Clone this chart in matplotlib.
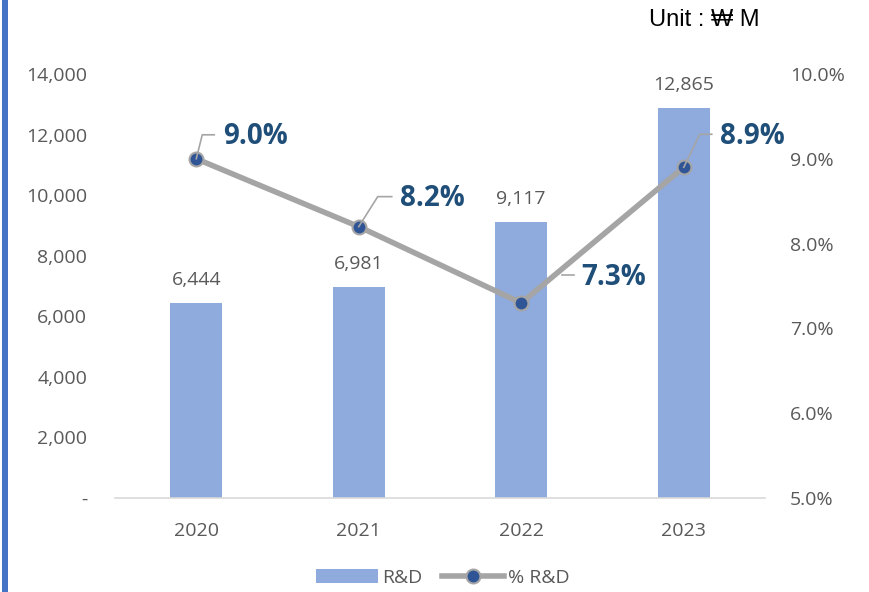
import matplotlib
matplotlib.use("Agg")
import matplotlib.pyplot as plt
from matplotlib.patches import Rectangle
from matplotlib.lines import Line2D

years = ["2020", "2021", "2022", "2023"]
rd = [6444, 6981, 9117, 12865]
pct = [9.0, 8.2, 7.3, 8.9]
left_ticks = [0, 2000, 4000, 6000, 8000, 10000, 12000, 14000]
right_ticks = [5.0, 6.0, 7.0, 8.0, 9.0, 10.0]

plt.rcParams['font.family'] = ['Open Sans', 'DejaVu Sans']
grey_txt = "#595959"

fig = plt.figure(figsize=(8.7, 5.92), dpi=100)
ax = fig.add_axes([115/870, 94/592, 650/870, 424/592])
ax2 = ax.twinx()

x = list(range(len(years)))
bars = ax.bar(x, rd, width=0.32, color="#8FAADC", label="R&D", zorder=2)
ax.set_xlim(-0.5, 3.5)
ax.set_ylim(0, 14000)
ax.set_yticks(left_ticks)
ax.set_yticklabels(["-" if v == 0 else f"{v:,}" for v in left_ticks])
ax.set_xticks(x)
ax.set_xticklabels(years)
ax.tick_params(axis='both', length=0, colors=grey_txt, labelsize=14)
ax.tick_params(axis='y', pad=20)
ax.tick_params(axis='x', pad=17)
for s in ["top", "right", "left"]:
    ax.spines[s].set_visible(False)
ax.spines["bottom"].set_color("#D9D9D9")
ax.spines["bottom"].set_linewidth(1.2)

for xi, v in zip(x, rd):
    ax.annotate(f"{v:,}", (xi, v), xytext=(0, 10), textcoords="offset points",
                ha="center", va="bottom", fontsize=14, color=grey_txt)

ax2.set_ylim(5.0, 10.0)
ax2.set_yticks(right_ticks)
ax2.set_yticklabels([f"{v:.1f}%" for v in right_ticks])
ax2.tick_params(axis='y', length=0, colors=grey_txt, labelsize=14, pad=18)
for s in ["top", "right", "left", "bottom"]:
    ax2.spines[s].set_visible(False)

line, = ax2.plot(x, pct, color="#A5A5A5", lw=4, marker="o", markersize=10,
                 markerfacecolor="#2F5597", markeredgecolor="#A5A5A5",
                 markeredgewidth=1.5, label="% R&D", zorder=3)

leaders = [[(0, 0), (6, 24), (18, 24)],
           [(0, 0), (19, 30), (33, 30)],
           [(41, 28), (53, 28)],
           [(0, 0), (16, 33), (28, 33)]]
text_off = [(27, 22), (41, 28), (60, 25), (36, 31)]
for xi, v, pts, off in zip(x, pct, leaders, text_off):
    base = ax2.transData.transform((xi, v))
    dx = [base[0] + p[0] for p in pts]
    dy = [base[1] + p[1] for p in pts]
    ln = Line2D(dx, dy, transform=None, color="#A5A5A5", lw=1.2, zorder=4)
    fig.add_artist(ln)
    ax2.annotate(f"{v:.1f}%", (xi, v), xytext=(off[0], off[1]), textcoords="offset pixels",
                 ha="left", va="center", fontsize=20, fontweight="bold", color="#1F4E79")

fig.legend(handles=[bars, line], labels=["R&D", "% R&D"], loc="center",
           bbox_to_anchor=(443/870, 1 - 578/592), ncol=2, frameon=False,
           fontsize=14, labelcolor=grey_txt, handlelength=3.2, columnspacing=1.0,
           handletextpad=0.2)

fig.text(760/870, 1 - 20/592, "Unit : \u20a9 M", ha="right", va="center", fontsize=17,
         color="black", family=["Liberation Sans", "DejaVu Sans"])

fig.add_artist(Rectangle((2/870, 0), 6/870, 1, transform=fig.transFigure,
                         color="#4472C4", lw=0))

fig.savefig("out.png", dpi=100)
